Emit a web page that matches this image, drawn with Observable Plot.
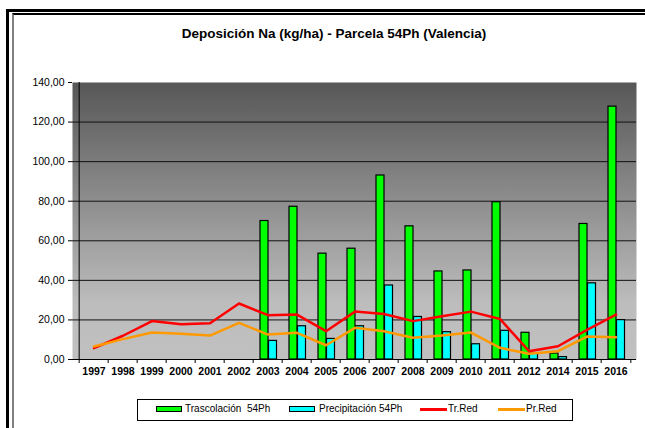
<!DOCTYPE html>
<html><head><meta charset="utf-8">
<script src="https://cdn.jsdelivr.net/npm/d3@7"></script>
<script src="https://cdn.jsdelivr.net/npm/@observablehq/plot@0.6"></script>
<style>
body{margin:0;background:#fff;font-family:"Liberation Sans",Arial,sans-serif;}
#wrap{position:relative;width:645px;height:428px;overflow:hidden;background:#fff;}
#chart{position:absolute;left:0;top:0;}
.b1{position:absolute;left:6px;top:9px;width:800px;height:600px;border-left:3px solid #000;border-top:3px solid #000;}
.b2{position:absolute;left:12px;top:13px;width:800px;height:600px;border-left:2px solid #808080;border-top:2px solid #000;}
#title{position:absolute;left:0;top:26px;width:668px;text-align:center;font-weight:bold;font-size:13.5px;line-height:15px;color:#000;}
#legend{position:absolute;left:137px;top:399px;width:436px;height:22px;border:1px solid #000;box-sizing:border-box;background:#fff;}
#legend .sw{position:absolute;top:6px;width:26px;height:6px;border:1px solid #000;box-sizing:border-box;}
#legend .ln{position:absolute;top:8px;width:27px;height:3px;}
#legend .lt{position:absolute;top:3px;font-size:10px;line-height:12px;white-space:pre;color:#000;}
</style></head><body>
<div id="wrap">
 <div id="chart"></div>
 <div class="b1"></div><div class="b2"></div>
 <div id="title">Deposición Na (kg/ha) - Parcela 54Ph (Valencia)</div>
 <div id="legend">
  <span class="sw" style="left:18px;background:#00ff00"></span><span class="lt" style="left:47px">Trascolación  54Ph</span>
  <span class="sw" style="left:151px;background:#00ffff"></span><span class="lt" style="left:181px">Precipitación 54Ph</span>
  <span class="ln" style="left:282px;background:#ff0000"></span><span class="lt" style="left:310px">Tr.Red</span>
  <span class="ln" style="left:360px;background:#ff9900"></span><span class="lt" style="left:388px">Pr.Red</span>
 </div>
</div>
<script>
const years = ["1997","1998","1999","2000","2001","2002","2003","2004","2005","2006","2007","2008","2009","2010","2011","2012","2014","2015","2016"];
const barYears = ["2003","2004","2005","2006","2007","2008","2009","2010","2011","2012","2014","2015","2016"];
const trascolacion = [70.0,77.2,53.5,56.0,93.0,67.3,44.5,45.0,79.5,13.5,3.0,68.5,127.8];
const precipitacion = [9.4,16.8,10.4,16.8,37.4,21.5,13.8,7.7,14.5,3.0,1.2,38.5,19.9];
const trRed = [5.7,12.0,19.4,17.8,18.3,28.3,22.4,22.7,14.3,24.2,23.0,19.4,21.9,24.2,20.5,4.2,6.7,15.0,22.7];
const prRed = [6.6,10.3,13.6,13.0,12.1,18.5,12.6,13.5,7.2,16.0,14.3,11.0,12.1,13.6,5.9,2.9,4.2,11.6,11.3];
const yTicks = [0,20,40,60,80,100,120,140];

const W = 645, H = 395, ML = 72, MR = 9, MT = 82, MB = 36;
const bw = (W - ML - MR) / years.length;

const trData = barYears.map((y, i) => ({year: y, value: trascolacion[i]}));
const prData = barYears.map((y, i) => ({year: y, value: precipitacion[i]}));
const trLine = years.map((y, i) => ({year: y, value: trRed[i]}));
const prLine = years.map((y, i) => ({year: y, value: prRed[i]}));

const svg = Plot.plot({
  width: W, height: H,
  marginTop: MT, marginBottom: MB, marginLeft: ML, marginRight: MR,
  style: {background: "transparent", color: "#000", fontFamily: "'Liberation Sans', Arial, sans-serif"},
  x: {type: "band", domain: years, padding: 0, label: null},
  y: {domain: [0, 140], label: null},
  marks: [
    Plot.frame({fill: "url(#bg)"}),
    Plot.ruleY(yTicks.filter(d => d > 0 && d < 140), {stroke: "#111", strokeWidth: 1}),
    Plot.barY(trData, {x: "year", y: "value", fill: "#00ff00", stroke: "#000", strokeWidth: 1.2, insetLeft: 7, insetRight: 14}),
    Plot.barY(prData, {x: "year", y: "value", fill: "#00ffff", stroke: "#000", strokeWidth: 1.2, insetLeft: 15.5, insetRight: 5.5}),
    Plot.lineY(trLine, {x: "year", y: "value", stroke: "#ff0000", strokeWidth: 2.5}),
    Plot.lineY(prLine, {x: "year", y: "value", stroke: "#ff9900", strokeWidth: 2.5}),
    Plot.ruleY([0], {stroke: "#000", strokeWidth: 1}),
    Plot.ruleX([years[0]], {x: d => d, y1: () => 0, y2: () => 140, dx: -bw / 2, stroke: "#000"}),
    Plot.ruleX(years, {x: d => d, y1: () => 0, y2: () => 0, insetBottom: -4, dx: -bw / 2, stroke: "#000"}),
    Plot.ruleX([years[years.length - 1]], {x: d => d, y1: () => 0, y2: () => 0, insetBottom: -4, dx: bw / 2, stroke: "#000"}),
    Plot.axisY({ticks: yTicks, tickFormat: d => d.toFixed(2).replace(".", ","), tickSize: 4, tickPadding: 4, fontSize: 10.5, label: null}),
    Plot.axisX({tickSize: 0, tickPadding: 8, fontSize: 10.5, fontWeight: "bold", label: null})
  ]
});

const defs = d3.select(svg).insert("defs", ":first-child");
const grad = defs.append("linearGradient").attr("id", "bg").attr("x1", 0).attr("y1", 0).attr("x2", 0).attr("y2", 1);
grad.append("stop").attr("offset", "0").attr("stop-color", "#575757");
grad.append("stop").attr("offset", "0.8").attr("stop-color", "#bdbdbd");
grad.append("stop").attr("offset", "1").attr("stop-color", "#c0c0c0");

document.getElementById("chart").appendChild(svg);
</script>
</body></html>
